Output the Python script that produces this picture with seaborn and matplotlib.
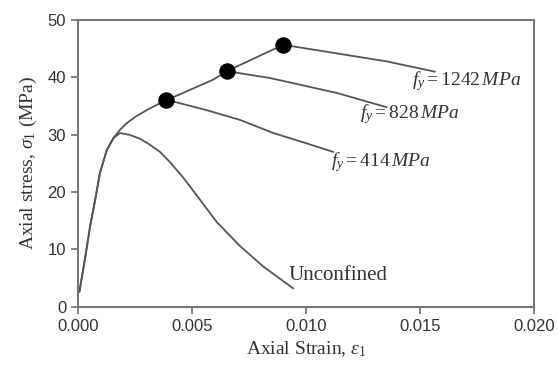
import numpy as np
import pandas as pd
import matplotlib
matplotlib.use("Agg")
import matplotlib.pyplot as plt
import seaborn as sns

# Unconfined concrete
unconf_strain = [0.00006, 0.0003, 0.00053, 0.00075, 0.00096, 0.00126, 0.00155, 0.00184,
                 0.00225, 0.00272, 0.0031, 0.0036, 0.00404, 0.00462, 0.00506, 0.00608,
                 0.0071, 0.00813, 0.00944]
unconf_stress = [2.6, 8.2, 14.0, 18.6, 23.3, 27.3, 29.4, 30.3,
                 30.0, 29.3, 28.4, 27.0, 25.2, 22.5, 20.2, 14.8,
                 10.6, 7.0, 3.2]

# Confined ascending envelope (shared by all confined curves)
env_strain = [0.00006, 0.0003, 0.00053, 0.00075, 0.00096, 0.00126, 0.00155, 0.00185,
              0.00213, 0.0025, 0.00301, 0.0035, 0.00386, 0.00592, 0.00653, 0.009]
env_stress = [2.6, 8.2, 14.0, 18.6, 23.3, 27.3, 29.4, 30.9,
              32.0, 33.1, 34.3, 35.3, 36.0, 39.6, 41.1, 45.7]

# Descending branches after yield
b414_strain = [0.00386, 0.00418, 0.00564, 0.0071, 0.00857, 0.01003, 0.0112]
b414_stress = [36.0, 35.8, 34.3, 32.6, 30.3, 28.5, 27.0]
b828_strain = [0.00653, 0.00842, 0.01135, 0.01354]
b828_stress = [41.1, 39.9, 37.3, 34.8]
b1242_strain = [0.009, 0.01135, 0.01354, 0.01566]
b1242_stress = [45.7, 44.2, 42.8, 41.0]

# Yield points (markers)
yield_strain = [0.00386, 0.00653, 0.009]
yield_stress = [36.0, 41.1, 45.7]

labels = ["$f_y = 414\\,MPa$", "$f_y = 828\\,MPa$", "$f_y = 1242\\,MPa$"]

sns.set_theme(style="white")
plt.rcParams["mathtext.fontset"] = "custom"
plt.rcParams["mathtext.it"] = "Liberation Serif:italic"
plt.rcParams["mathtext.rm"] = "Liberation Serif"

fig = plt.figure(figsize=(5.58, 3.73), dpi=100)
ax = fig.add_axes([0.1398, 0.1777, 0.8172, 0.7683])

lc = "#555555"
lw = 1.3
curves = [(unconf_strain, unconf_stress), (env_strain, env_stress),
          (b414_strain, b414_stress), (b828_strain, b828_stress),
          (b1242_strain, b1242_stress)]
for xs, ys in curves:
    df = pd.DataFrame({"strain": xs, "stress": ys})
    sns.lineplot(data=df, x="strain", y="stress", ax=ax, sort=False, estimator=None,
                 color=lc, linewidth=lw)

ydf = pd.DataFrame({"strain": yield_strain, "stress": yield_stress})
sns.scatterplot(data=ydf, x="strain", y="stress", ax=ax, color="black", s=120,
                edgecolor="black", zorder=5)

ax.set_xlim(0, 0.020)
ax.set_ylim(0, 50)
ax.set_xticks([0.0, 0.005, 0.010, 0.015, 0.020])
ax.set_xticklabels(["0.000", "0.005", "0.010", "0.015", "0.020"])
ax.set_yticks([0, 10, 20, 30, 40, 50])

for sp in ax.spines.values():
    sp.set_color("#777777")
    sp.set_linewidth(1.5)
ax.tick_params(axis="both", which="both", direction="out", length=5, width=1.3,
               color="#777777", labelsize=12, labelcolor="#333333", bottom=True, left=True)
for t in ax.get_xticklabels() + ax.get_yticklabels():
    t.set_family("Liberation Sans")

ax.set_xlabel("Axial Strain, $\\varepsilon_1$", family="Liberation Serif", fontsize=14,
              color="#333333", labelpad=4)
ax.set_ylabel("Axial stress, $\\sigma_1$ (MPa)", family="Liberation Serif", fontsize=14,
              color="#333333", labelpad=6)

txt_kw = dict(family="Liberation Serif", fontsize=14, color="#333333", va="center", ha="left")
ax.text(0.01110, 25.2, labels[0], **txt_kw)
ax.text(0.01235, 33.6, labels[1], **txt_kw)
ax.text(0.01465, 39.4, labels[2], **txt_kw)
ax.text(0.00922, 5.5, "Unconfined", family="Liberation Serif", fontsize=15,
        color="#333333", va="center", ha="left")

fig.savefig("out.png", dpi=100)
